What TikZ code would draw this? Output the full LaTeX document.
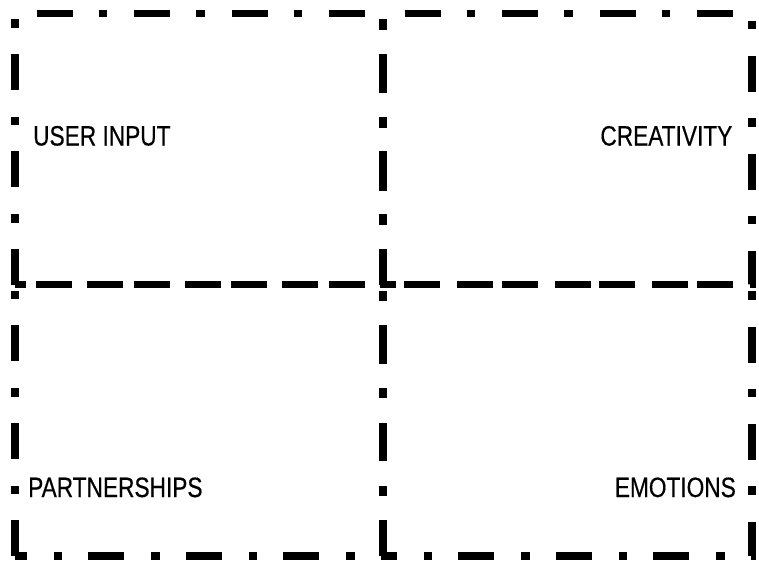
\documentclass[tikz,border=0pt]{standalone}
\usepackage{fontspec}
\setmainfont[FakeStretch=0.81,FakeBold=0.4]{Liberation Sans}
\begin{document}
\begin{tikzpicture}[x=1pt,y=-1pt,
  quad/.style={draw=black,line width=7.5pt,dash pattern=on 36pt off 26pt on 8.5pt off 27pt},
  lbl/.style={inner sep=0pt,font=\fontsize{28}{31}\selectfont}]
\useasboundingbox[fill=white] (0,0) rectangle (759,563);
% four quadrants, each traced from its lower-left corner upwards
\draw[quad] (15,284.5) -- (15,13.5) -- (383,13.5) -- (383,284.5) -- cycle;
\draw[quad] (383,284.5) -- (383,13.5) -- (752,13.5) -- (752,284.5) -- cycle;
\draw[quad] (15,556) -- (15,284.5) -- (383,284.5) -- (383,556) -- cycle;
\draw[quad] (383,556) -- (383,284.5) -- (752,284.5) -- (752,556) -- cycle;
\node[lbl,anchor=base west] (ui) at (33,145.5) {USER INPUT};
\node[lbl,anchor=base east] (cr) at (732.5,145.5) {CREATIVITY};
\node[lbl,anchor=base west] (pa) at (28,497) {PARTNERSHIPS};
\node[lbl,anchor=base east] (em) at (736,497) {EMOTIONS};
\end{tikzpicture}
\end{document}
